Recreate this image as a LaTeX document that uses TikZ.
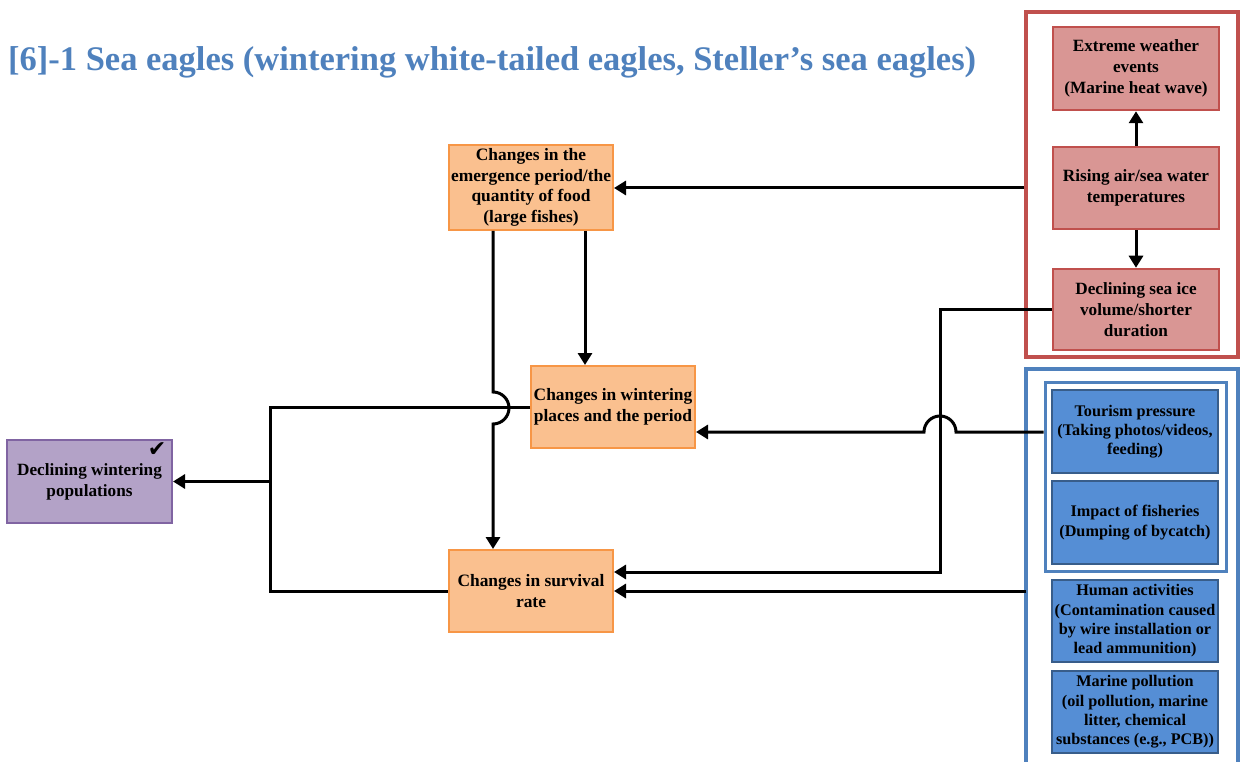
\documentclass[tikz,border=0pt]{standalone}
\usepackage{fontspec}
\setmainfont{Liberation Serif}
\newfontfamily\symfont{DejaVu Sans}
\usetikzlibrary{arrows.meta}
\definecolor{titleblue}{HTML}{4F81BD}
\definecolor{ofill}{HTML}{FAC08F}
\definecolor{odraw}{HTML}{F79646}
\definecolor{pfill}{HTML}{B3A2C7}
\definecolor{pdraw}{HTML}{8064A2}
\definecolor{rfill}{HTML}{D99694}
\definecolor{rdraw}{HTML}{C0504D}
\definecolor{bfill}{HTML}{558ED5}
\definecolor{bdraw}{HTML}{385D8A}
\definecolor{bouter}{HTML}{4F81BD}
\begin{document}
\begin{tikzpicture}[x=1pt,y=-1pt,
  basebox/.style={draw, align=center, inner sep=0pt, text=black},
  obox/.style={basebox, fill=ofill, draw=odraw, line width=2pt, font=\bfseries\fontsize{17.4}{20.5}\selectfont},
  pbox/.style={basebox, fill=pfill, draw=pdraw, line width=2pt, font=\bfseries\fontsize{17.2}{21}\selectfont},
  rbox/.style={basebox, fill=rfill, draw=rdraw, line width=2.5pt, minimum width=166pt, font=\bfseries\fontsize{17.2}{21}\selectfont},
  bbox/.style={basebox, fill=bfill, draw=bdraw, line width=2.5pt, minimum width=166pt, font=\bfseries\fontsize{16.2}{19.3}\selectfont},
  frame/.style={draw, line width=4pt, fill=none, inner sep=0pt},
  conn/.style={line width=3pt, -{Triangle[length=12pt,width=14pt]}},
  plain/.style={line width=3pt}]
\useasboundingbox (0,0) rectangle (1243,762);

\node[anchor=base west, text=titleblue, font=\bfseries\fontsize{34.5}{40}\selectfont, inner sep=0pt] (title) at (8,71)
  {[6]-1 Sea eagles (wintering white-tailed eagles, Steller’s sea eagles)};

% outer frames
\node[frame, draw=rdraw, minimum width=212pt, minimum height=345pt] (redbox) at (1132,184.5) {};
\draw[line width=4pt, draw=bouter] (1026,770) -- (1026,369) -- (1238,369) -- (1238,770);
\coordinate (bluebox) at (1026,591);
\node[frame, draw=bouter, line width=3pt, minimum width=181pt, minimum height=189pt] (binner) at (1135.5,476.5) {};

% orange / purple boxes
\node[obox, minimum width=164pt, minimum height=85pt] (emer) at (531,187.5)
  {Changes in the\\emergence period/the\\quantity of food\\(large fishes)};
\node[obox, minimum width=164pt, minimum height=82pt] (wint) at (613,407)
  {Changes in wintering\\places and the period};
\node[obox, minimum width=164pt, minimum height=82pt] (surv) at (531,591)
  {Changes in survival\\rate};
\node[pbox, minimum width=165pt, minimum height=83pt] (purp) at (89.5,481.5)
  {Declining wintering\\populations};
\node[font=\symfont\fontsize{22}{22}\selectfont, inner sep=0pt] (check) at (157,450) {✔};

% red boxes
\node[rbox, minimum height=83pt] (extr) at (1136,68.5)
  {Extreme weather\\events\\(Marine heat wave)};
\node[rbox, minimum height=82pt] (rise) at (1136,188)
  {Rising air/sea water\\temperatures};
\node[rbox, minimum height=81pt] (decl) at (1136,309.5)
  {Declining sea ice\\volume/shorter\\duration};

% blue boxes
\node[bbox, minimum height=83pt] (tour) at (1135,431.5)
  {Tourism pressure\\(Taking photos/videos,\\feeding)};
\node[bbox, minimum height=83pt] (fish) at (1135,522.5)
  {Impact of fisheries\\(Dumping of bycatch)};
\node[bbox, minimum height=82pt] (human) at (1135,621)
  {Human activities\\(Contamination caused\\by wire installation or\\lead ammunition)};
\node[bbox, minimum height=82pt] (marine) at (1135,712)
  {Marine pollution\\(oil pollution, marine\\litter, chemical\\substances (e.g., PCB))};

% connectors
\draw[conn] (redbox.west |- rise) -- (emer.east |- rise);
\draw[conn] (rise.north) -- (extr.south);
\draw[conn] (rise.south) -- (decl.north);

\coordinate (c1) at (940,572);
\draw[conn] (decl.west) -| (c1) -- (surv.east |- c1);

\coordinate (hopR) at (956,432);
\draw[conn] (binner.west |- hopR) -- (hopR) arc[start angle=0,end angle=180,radius=16pt] -- (wint.east |- hopR);

\draw[conn] (bluebox) -- (surv.east);

\coordinate (ew) at (585,0);
\draw[conn] (emer.south -| ew) -- (wint.north -| ew);

\coordinate (es) at (493,392);
\draw[conn] (emer.south -| es) -- (es) arc[start angle=90,end angle=-90,radius=16pt] -- (surv.north -| es);

\coordinate (lx) at (270,481.5);
\draw[plain] (wint.west) -| (lx) |- (surv.west);
\draw[conn] (lx) -- (purp.east);
\end{tikzpicture}
\end{document}
